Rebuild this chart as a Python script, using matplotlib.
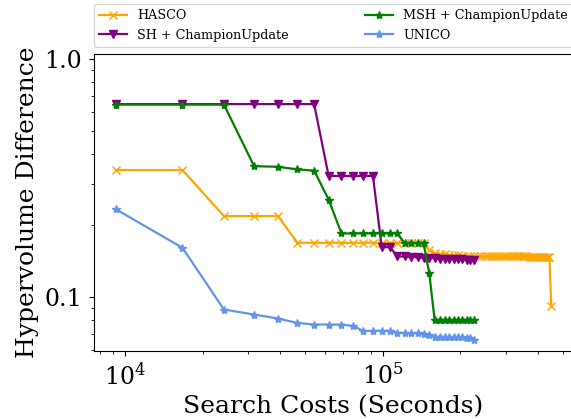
import matplotlib
matplotlib.use("Agg")
import matplotlib.pyplot as plt
from matplotlib.ticker import FormatStrFormatter, NullFormatter

plt.rcParams['font.family'] = 'DejaVu Serif'
plt.rcParams['mathtext.fontset'] = 'dejavuserif'

# cumulative search cost (seconds) at each evaluation step
search_costs = [
    9200, 16700, 24200, 31700, 39200, 46700, 54200, 61700, 69200, 76700,
    84200, 91700, 99200, 106700, 114200, 121700, 129200, 136700, 144200, 151700,
    159200, 166700, 174200, 181700, 189200, 196700, 204200, 211700, 219200, 226700,
    234200, 241700, 249200, 256700, 264200, 271700, 279200, 286700, 294200, 301700,
    309200, 316700, 324200, 331700, 339200, 346700, 354200, 361700, 369200, 376700,
    384200, 391700, 399200, 406700, 414200, 421700, 429200, 436700, 444200, 451700,
]

hasco_hv = [
    0.342, 0.342, 0.219, 0.219, 0.219, 0.169, 0.169, 0.169, 0.169, 0.169,
    0.169, 0.169, 0.169, 0.169, 0.169, 0.169, 0.169, 0.169, 0.169, 0.157,
    0.153, 0.152, 0.151, 0.150, 0.150, 0.150, 0.149, 0.149, 0.149, 0.149,
    0.148, 0.148, 0.148, 0.148, 0.148, 0.148, 0.148, 0.148, 0.148, 0.148,
    0.148, 0.148, 0.148, 0.148, 0.148, 0.148, 0.148, 0.148, 0.147, 0.147,
    0.147, 0.147, 0.147, 0.147, 0.147, 0.147, 0.147, 0.147, 0.147, 0.092,
]

sh_hv = [
    0.648, 0.648, 0.648, 0.648, 0.648, 0.648, 0.648, 0.323, 0.323, 0.323,
    0.323, 0.323, 0.162, 0.162, 0.148, 0.148, 0.147, 0.147, 0.146, 0.146,
    0.146, 0.145, 0.145, 0.145, 0.144, 0.144, 0.144, 0.143, 0.143, 0.143,
]

msh_hv = [
    0.645, 0.645, 0.645, 0.355, 0.353, 0.344, 0.340, 0.257, 0.185, 0.185,
    0.185, 0.185, 0.185, 0.185, 0.185, 0.168, 0.168, 0.168, 0.168, 0.126,
    0.080, 0.080, 0.080, 0.080, 0.080, 0.080, 0.080, 0.080, 0.080, 0.080,
]

unico_hv = [
    0.234, 0.161, 0.0885, 0.0843, 0.0811, 0.0777, 0.0765, 0.0765, 0.0765, 0.0755,
    0.0719, 0.0719, 0.0719, 0.0719, 0.0705, 0.0705, 0.0703, 0.0703, 0.0700, 0.0690,
    0.0680, 0.0678, 0.0678, 0.0677, 0.0676, 0.0676, 0.0675, 0.0674, 0.0672, 0.0657,
]

fig = plt.figure(figsize=(5.71, 4.19), dpi=100)
ax = fig.add_axes([0.1646, 0.1623, 0.839, 0.7088])

n = len(sh_hv)
ax.plot(search_costs, hasco_hv, color='orange', marker='x', markersize=6,
        linewidth=1.6, label='HASCO')
ax.plot(search_costs[:n], sh_hv, color='purple', marker='v', markersize=6,
        linewidth=1.6, label='SH + ChampionUpdate')
ax.plot(search_costs[:n], msh_hv, color='green', marker='*', markersize=6,
        linewidth=1.6, label='MSH + ChampionUpdate')
ax.plot(search_costs[:n], unico_hv, color='cornflowerblue', marker='*', markersize=6,
        linewidth=1.6, label='UNICO')

ax.set_xscale('log')
ax.set_yscale('log')
ax.set_ylim(0.0592, 1.053)

ax.yaxis.set_major_formatter(FormatStrFormatter('%.1f'))
ax.yaxis.set_minor_formatter(NullFormatter())
ax.tick_params(axis='both', which='major', labelsize=17, pad=5)

ax.set_xlabel('Search Costs (Seconds)', fontsize=18)
ax.set_ylabel('Hypervolume Difference', fontsize=18)

# two-column legend sitting above the plot area
ax.legend(loc='lower left', bbox_to_anchor=(0, 1.024), ncol=2, fontsize=9.2,
          borderaxespad=0.0, handlelength=2.2, columnspacing=5.95)

fig.savefig('out.png', dpi=100)
